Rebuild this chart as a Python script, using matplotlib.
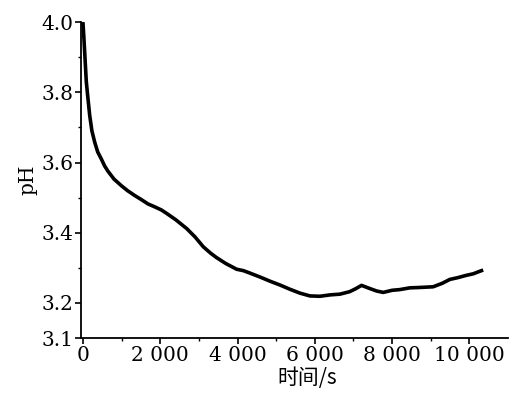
import matplotlib
matplotlib.use("Agg")
import matplotlib.pyplot as plt
from matplotlib.ticker import FixedLocator

# Data
time_s = [0, 20, 50, 85, 130, 173, 230, 302, 380, 474, 560, 647, 800, 992, 1150, 1337,
          1500, 1682, 1850, 2026, 2165, 2400, 2682, 2900, 3113, 3300, 3458, 3700, 3976,
          4150, 4321, 4600, 4838, 5100, 5355, 5614, 5873, 6132, 6400, 6649, 6900, 7050,
          7210, 7400, 7600, 7770, 8000, 8200, 8460, 8700, 9063, 9300, 9495, 9700, 9900,
          10100, 10315]
ph = [3.995, 3.96, 3.90, 3.83, 3.78, 3.734, 3.69, 3.658, 3.63, 3.61, 3.59, 3.575, 3.553,
      3.534, 3.52, 3.506, 3.495, 3.482, 3.474, 3.465, 3.455, 3.437, 3.412, 3.388, 3.36,
      3.342, 3.329, 3.312, 3.296, 3.292, 3.285, 3.273, 3.262, 3.251, 3.239, 3.228, 3.220,
      3.219, 3.223, 3.225, 3.232, 3.240, 3.250, 3.242, 3.234, 3.230, 3.236, 3.238, 3.243,
      3.244, 3.246, 3.256, 3.267, 3.272, 3.278, 3.283, 3.292]

xticks = [0, 2000, 4000, 6000, 8000, 10000]
xticklabels = ["0", "2 000", "4 000", "6 000", "8 000", "10 000"]
yticks = [3.1, 3.2, 3.4, 3.6, 3.8, 4.0]
yticklabels = ["3.1", "3.2", "3.4", "3.6", "3.8", "4.0"]

plt.rcParams['font.family'] = ['DejaVu Serif', 'Noto Sans CJK SC', 'DejaVu Sans']

fig = plt.figure(figsize=(5.10, 3.94), dpi=100)
ax = fig.add_axes([0.159, 0.142, 0.837, 0.802])
ax.plot(time_s, ph, color='black', lw=2.6, solid_joinstyle='round')

ax.set_xlim(-50, 11000)
ax.set_ylim(3.1, 4.0)
ax.set_xticks(xticks)
ax.set_xticklabels(xticklabels)
ax.set_yticks(yticks)
ax.set_yticklabels(yticklabels)
ax.xaxis.set_minor_locator(FixedLocator([1000, 3000, 5000, 7000, 9000]))
ax.yaxis.set_minor_locator(FixedLocator([3.3, 3.5, 3.7, 3.9]))

for s in ['top', 'right']:
    ax.spines[s].set_visible(False)
for s in ['left', 'bottom']:
    ax.spines[s].set_linewidth(1.3)

ax.tick_params(axis='both', which='major', direction='out', length=4, width=1.2,
               labelsize=14.5, pad=1.5)
ax.tick_params(axis='both', which='minor', direction='out', length=2.5, width=1.0)

ax.set_ylabel('pH', fontsize=14.5, labelpad=3)
ax.set_xlabel('时间/s', fontsize=15,
              family=['Noto Sans CJK SC', 'DejaVu Sans'])
ax.xaxis.set_label_coords(0.529, -0.092)

fig.savefig('out.png', dpi=100)
